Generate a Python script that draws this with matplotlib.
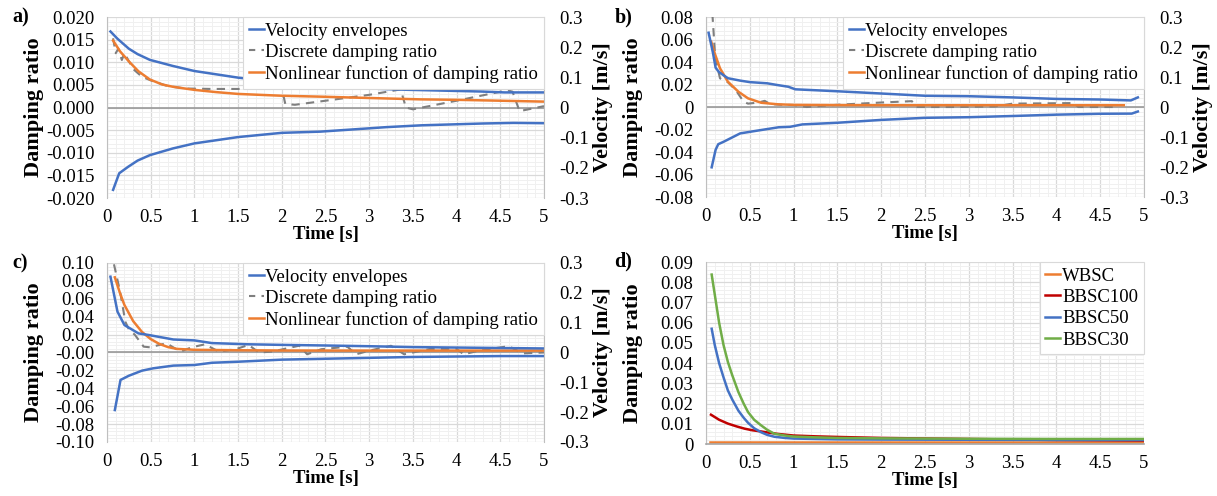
import matplotlib
matplotlib.use("Agg")
import matplotlib.pyplot as plt
from matplotlib.ticker import MultipleLocator, FuncFormatter
from matplotlib.lines import Line2D

plt.rcParams['font.family'] = ['Liberation Serif', 'DejaVu Serif']
plt.rcParams['axes.unicode_minus'] = False

BLUE = '#4472C4'
ORANGE = '#ED7D31'
GRAY = '#7F7F7F'
RED = '#C00000'
GREEN = '#70AD47'

# ---- a) velocity envelopes [m/s], damping ratio [-] ----
t_a_up = [0.04, 0.12, 0.25, 0.35, 0.49, 0.75, 1.0, 1.25, 1.5, 2.0, 2.44, 3.02, 3.1, 3.4, 4.28, 4.55, 5.0]
v_a_up = [0.252, 0.228, 0.195, 0.177, 0.158, 0.138, 0.121, 0.110, 0.099, 0.083, 0.078, 0.072, 0.062,
          0.059, 0.053, 0.050, 0.050]
t_a_lo = [0.07, 0.14, 0.24, 0.35, 0.49, 0.75, 1.0, 1.5, 2.0, 2.44, 3.0, 3.2, 3.6, 4.3, 4.65, 5.0]
v_a_lo = [-0.273, -0.218, -0.197, -0.176, -0.158, -0.136, -0.119, -0.098, -0.084, -0.080, -0.069,
          -0.065, -0.059, -0.053, -0.051, -0.052]
t_a_dis = [0.07, 0.1, 0.13, 0.17, 0.2, 0.3, 0.4, 0.5, 0.7, 0.9, 1.2, 1.5, 1.8, 2.0, 2.04, 2.15,
           2.5, 3.0, 3.36, 3.42, 3.5, 4.0, 4.58, 4.64, 4.72, 5.0]
d_a_dis = [0.0153, 0.012, 0.013, 0.0105, 0.012, 0.0085, 0.0068, 0.006, 0.0047, 0.0042, 0.0041, 0.0041,
           0.0042, 0.0043, 0.0008, 0.0006, 0.0015, 0.0028, 0.0040, 0.0000, -0.0004, 0.0015, 0.0038,
           0.0035, -0.0008, 0.0003]
t_a_fit = [0.07, 0.15, 0.25, 0.36, 0.49, 0.63, 0.75, 0.89, 1.0, 1.25, 1.5, 2.0, 2.44, 3.0, 3.59, 4.0,
           4.5, 5.0]
d_a_fit = [0.0148, 0.0124, 0.0102, 0.0080, 0.0062, 0.0051, 0.0046, 0.0042, 0.0039, 0.0034, 0.0030,
           0.0026, 0.0024, 0.0021, 0.0018, 0.0017, 0.0015, 0.0013]

# ---- b) ----
t_b_up = [0.03, 0.08, 0.11, 0.15, 0.25, 0.39, 0.5, 0.7, 0.81, 0.94, 1.02, 1.5, 2.0, 2.5, 3.0,
          3.5, 4.0, 4.5, 4.85, 4.93]
v_b_up = [0.2475, 0.18, 0.131, 0.116, 0.096, 0.088, 0.083, 0.079, 0.0735, 0.0675, 0.059, 0.0525,
          0.045, 0.0375, 0.036, 0.032, 0.027, 0.025, 0.022, 0.032]
t_b_lo = [0.065, 0.11, 0.14, 0.2, 0.39, 0.58, 0.83, 0.96, 1.1, 1.5, 2.0, 2.5, 3.0, 3.5, 4.0, 4.5,
          4.86, 4.93]
v_b_lo = [-0.201, -0.1425, -0.124, -0.116, -0.088, -0.079, -0.0675, -0.066, -0.058, -0.0525, -0.043,
          -0.036, -0.034, -0.030, -0.0255, -0.0225, -0.022, -0.015]
t_b_dis = [0.06, 0.1, 0.12, 0.16, 0.25, 0.34, 0.43, 0.48, 0.6, 0.67, 0.73, 0.85, 1.0, 1.15, 1.5,
           2.0, 2.35, 2.4, 2.8, 3.3, 3.5, 4.2, 4.25, 4.69]
d_b_dis = [0.098, 0.051, 0.039, 0.0255, 0.022, 0.015, 0.0047, 0.003, 0.004, 0.0055, 0.0027, 0.002,
           0.0018, 0.0, 0.002, 0.004, 0.0052, 0.0, 0.0, 0.0005, 0.003, 0.0035, 0.0, 0.0]
t_b_fit = [0.06, 0.1, 0.16, 0.25, 0.37, 0.48, 0.63, 0.82, 1.0, 1.5, 2.0, 3.0, 4.0, 4.77]
d_b_fit = [0.058, 0.0477, 0.0344, 0.0225, 0.0136, 0.0077, 0.0038, 0.0024, 0.0019, 0.0017, 0.0016,
           0.0016, 0.0016, 0.0016]

# ---- c) ----
t_c_up = [0.04, 0.12, 0.2, 0.36, 0.47, 0.76, 1.0, 1.2, 1.6, 2.0, 2.5, 3.0, 3.5, 4.0, 4.5, 5.0]
v_c_up = [0.254, 0.137, 0.092, 0.064, 0.059, 0.0435, 0.0405, 0.0315, 0.0276, 0.0255, 0.0234, 0.021,
          0.018, 0.0165, 0.015, 0.0135]
t_c_lo = [0.09, 0.155, 0.25, 0.4, 0.53, 0.76, 1.0, 1.2, 1.5, 2.0, 2.5, 3.0, 3.5, 4.0, 4.5, 5.0]
v_c_lo = [-0.193, -0.092, -0.078, -0.061, -0.053, -0.044, -0.042, -0.0345, -0.031, -0.024, -0.021,
          -0.018, -0.015, -0.0135, -0.012, -0.012]
t_c_dis = [0.08, 0.15, 0.21, 0.25, 0.32, 0.42, 0.49, 0.68, 0.84, 0.97, 1.12, 1.28, 1.47, 1.62, 1.74,
           1.89, 2.2, 2.29, 2.45, 2.75, 2.85, 3.0, 3.25, 3.4, 3.7, 4.0, 4.08, 4.3, 4.6, 4.75, 5.0]
d_c_dis = [0.0985, 0.068, 0.0344, 0.026, 0.0196, 0.0065, 0.0058, 0.0103, 0.001, 0.0058, 0.0091, 0.001,
           0.0036, 0.0084, 0.0, 0.001, 0.0076, -0.002, 0.0036, 0.0065, -0.002, 0.002, 0.0075, -0.002,
           0.004, 0.004, -0.002, 0.003, 0.007, -0.001, 0.0]
t_c_fit = [0.09, 0.15, 0.2, 0.3, 0.4, 0.5, 0.6, 0.7, 0.8, 1.0, 1.5, 2.0, 3.0, 4.0, 5.0]
d_c_fit = [0.084, 0.066, 0.053, 0.035, 0.023, 0.015, 0.0095, 0.006, 0.004, 0.003, 0.0025, 0.0022,
           0.0021, 0.0021, 0.0021]

# ---- d) damping ratio per specimen ----
t_d = [0.065, 0.1, 0.15, 0.2, 0.25, 0.3, 0.37, 0.43, 0.48, 0.55, 0.63, 0.7, 0.78, 0.9, 1.0, 1.25,
       1.5, 2.0, 3.0, 4.0, 5.0]
bbsc30 = [0.0838, 0.074, 0.060, 0.049, 0.0406, 0.034, 0.0257, 0.020, 0.0158, 0.012, 0.0092, 0.007,
          0.0051, 0.0042, 0.0037, 0.0033, 0.0030, 0.0028, 0.0026, 0.0025, 0.0025]
bbsc50 = [0.057, 0.049, 0.040, 0.033, 0.0265, 0.022, 0.0165, 0.013, 0.0105, 0.0078, 0.0058, 0.0045,
          0.0036, 0.0030, 0.0027, 0.0025, 0.0023, 0.0022, 0.0021, 0.0020, 0.0020]
t_d_red = [0.057, 0.15, 0.25, 0.35, 0.44, 0.53, 0.63, 0.72, 0.82, 1.0, 1.25, 1.5, 2.0, 3.0, 3.8, 4.0, 5.0]
bbsc100 = [0.0145, 0.012, 0.0101, 0.0087, 0.0076, 0.0068, 0.0062, 0.0056, 0.0050, 0.0042, 0.0038,
           0.0035, 0.0030, 0.0025, 0.0021, 0.0020, 0.0017]
t_d_w = [0.05, 5.0]
wbsc = [0.001, 0.001]

LEG_KW = dict(fontsize=13.5, handlelength=0.8, handletextpad=0.1, labelspacing=0.22,
              borderaxespad=0, borderpad=0.3, fancybox=False, framealpha=1)


def fmt_general(v, pos):
    s = f'{v:.3f}'.rstrip('0').rstrip('.')
    return '0' if s in ('-0', '0') else s


def style(ax, ylim, major, fmt, zero_line=True):
    ax.set_xlim(0, 5)
    ax.set_ylim(*ylim)
    ax.xaxis.set_major_locator(MultipleLocator(0.5))
    ax.xaxis.set_minor_locator(MultipleLocator(0.1))
    ax.yaxis.set_major_locator(MultipleLocator(major))
    ax.yaxis.set_minor_locator(MultipleLocator(major / 5))
    ax.xaxis.set_major_formatter(FuncFormatter(fmt_general))
    ax.yaxis.set_major_formatter(FuncFormatter(fmt))
    ax.grid(which='major', color='#d9d9d9', lw=0.9)
    ax.grid(which='minor', color='#f0f0f0', lw=0.7)
    ax.set_axisbelow(True)
    ax.tick_params(which='both', length=0, labelsize=13.5)
    ax.tick_params(axis='y', pad=9)
    ax.tick_params(axis='x', pad=8)
    for s in ['top', 'right']:
        ax.spines[s].set_visible(False)
    ax.spines['left'].set_color('#bfbfbf')
    if zero_line:
        ax.spines['bottom'].set_visible(False)
        ax.axhline(0, color='#999999', lw=1.2, zorder=1.5)
    else:
        ax.spines['bottom'].set_color('#a6a6a6')
        ax.spines['bottom'].set_linewidth(1.2)
    ax.set_xlabel('Time [s]', fontsize=13.5, fontweight='bold', labelpad=0)
    ax.set_ylabel('Damping ratio', fontsize=16, fontweight='bold')
    ax.yaxis.set_label_coords(-0.143, 0.5)


def velocity_panel(ax, ylim, major, fmt, t_up, v_up, t_lo, v_lo, t_dis, d_dis, t_fit, d_fit):
    style(ax, ylim, major, fmt)
    ax.plot(t_dis, d_dis, color=GRAY, lw=1.5, ls=(0, (4, 3)), zorder=3)
    ax.plot(t_fit, d_fit, color=ORANGE, lw=1.8, zorder=4)
    ax2 = ax.twinx()
    ax2.set_ylim(-0.3, 0.3)
    ax2.yaxis.set_major_locator(MultipleLocator(0.1))
    ax2.yaxis.set_major_formatter(FuncFormatter(fmt_general))
    ax2.tick_params(length=0, labelsize=13.5, pad=11)
    for s in ['top', 'left', 'bottom']:
        ax2.spines[s].set_visible(False)
    ax2.spines['right'].set_color('#bfbfbf')
    ax2.plot(t_up, v_up, color=BLUE, lw=1.8)
    ax2.plot(t_lo, v_lo, color=BLUE, lw=1.8)
    ax2.set_ylabel('Velocity [m/s]', fontsize=16, fontweight='bold')
    ax2.yaxis.set_label_coords(1.113, 0.5)
    handles = [Line2D([], [], color=BLUE, lw=1.8),
               Line2D([], [], color=GRAY, lw=1.5, ls=(0, (3, 3))),
               Line2D([], [], color=ORANGE, lw=1.8)]
    labels = ['Velocity envelopes', 'Discrete damping ratio', 'Nonlinear function of damping ratio']
    leg = ax2.legend(handles, labels, loc='upper right', **LEG_KW)
    leg.get_frame().set_edgecolor('#d9d9d9')
    leg.get_frame().set_linewidth(0.8)
    return ax2


fig = plt.figure(figsize=(12.17, 4.96), dpi=100)
ax_a = fig.add_axes([0.0879, 0.6008, 0.3591, 0.3649])
ax_b = fig.add_axes([0.5801, 0.6028, 0.3599, 0.3629])
ax_c = fig.add_axes([0.0879, 0.1089, 0.3591, 0.3609])
ax_d = fig.add_axes([0.5801, 0.1048, 0.3599, 0.3669])

velocity_panel(ax_a, (-0.02, 0.02), 0.005, lambda v, p: f'{v:.3f}',
               t_a_up, v_a_up, t_a_lo, v_a_lo, t_a_dis, d_a_dis, t_a_fit, d_a_fit)
velocity_panel(ax_b, (-0.08, 0.08), 0.02, fmt_general,
               t_b_up, v_b_up, t_b_lo, v_b_lo, t_b_dis, d_b_dis, t_b_fit, d_b_fit)
velocity_panel(ax_c, (-0.10, 0.10), 0.02, lambda v, p: f'{v:.2f}',
               t_c_up, v_c_up, t_c_lo, v_c_lo, t_c_dis, d_c_dis, t_c_fit, d_c_fit)

style(ax_d, (0, 0.09), 0.01, fmt_general, zero_line=False)
ax_d.plot(t_d_w, wbsc, color=ORANGE, lw=1.8, label='WBSC')
ax_d.plot(t_d_red, bbsc100, color=RED, lw=1.8, label='BBSC100')
ax_d.plot(t_d, bbsc50, color=BLUE, lw=1.8, label='BBSC50')
ax_d.plot(t_d, bbsc30, color=GREEN, lw=1.8, label='BBSC30')
leg = ax_d.legend(loc='upper right', **LEG_KW)
leg.get_frame().set_edgecolor('#d9d9d9')
leg.get_frame().set_linewidth(0.8)

for lab, x, y in [('a)', 0.010, 0.965), ('b)', 0.505, 0.965), ('c)', 0.010, 0.468), ('d)', 0.505, 0.472)]:
    fig.text(x, y, lab, fontsize=14.5, fontweight='bold', va='center')

fig.savefig('out.png', dpi=100)
